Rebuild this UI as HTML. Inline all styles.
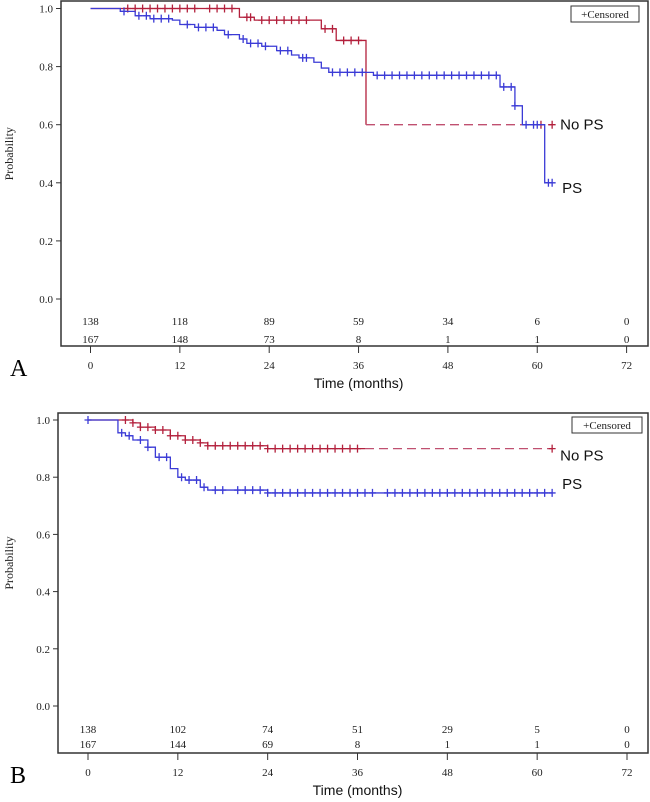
<!DOCTYPE html>
<html><head><meta charset="utf-8">
<style>
html,body{margin:0;padding:0;background:#fff;}
svg{display:block;}
.tk{font-family:"Liberation Serif",serif;font-size:11px;fill:#222;}
.lab{font-family:"Liberation Sans",sans-serif;font-size:15px;fill:#111;}
</style></head>
<body>
<svg id="chart" width="650" height="802" xmlns="http://www.w3.org/2000/svg"></svg>
<script>
// ===== Data =====
const xTicks = [0,12,24,36,48,60,72];
const yTicks = [0.0,0.2,0.4,0.6,0.8,1.0];
// Panel A
const aNoPsTimes = [0,20,22,31,33,37];
const aNoPsSurv  = [1.0,0.97,0.96,0.93,0.89,0.60];
const aNoPsSolidEnd = 37;
const aNoPsEnd = 62;
const aNoPsCens = [5,6,7,8,9,10,11,12,13,14,16,17,18,19,21,21.5,23,24,25,26,27,28,29,31.5,32.5,34,35,36,60.5,62];
const aPsTimes = [0,4,6,8,11,12,14,17,18,20,21,23,25,27,28,30,31,32,38,55,57,58,61];
const aPsSurv  = [1.0,0.99,0.975,0.965,0.96,0.945,0.935,0.925,0.91,0.895,0.88,0.87,0.855,0.84,0.83,0.815,0.795,0.78,0.77,0.73,0.665,0.60,0.40];
const aPsEnd = 62;
const aPsCens = [4.5,6.5,7.5,8.5,9.5,10.5,13,14.5,15.5,16.5,18.5,20.5,21.5,22.5,23.5,25.5,26.5,28.5,29,32.5,33.5,34.5,35.5,36.5,38.5,39.5,40.5,41.5,42.5,43.5,44.5,45.5,46.5,47.5,48.5,49.5,50.5,51.5,52.5,53.5,54.5,55.5,56.5,57,58.5,59.5,60,61.5,62];
const aRiskNoPs = [138,118,89,59,34,6,0];
const aRiskPs   = [167,148,73,8,1,1,0];
// Panel B
const bNoPsTimes = [0,6,7,9,11,13,15,16,24];
const bNoPsSurv  = [1.0,0.99,0.975,0.965,0.945,0.93,0.92,0.91,0.90];
const bNoPsSolidEnd = 37;
const bNoPsEnd = 62;
const bNoPsCens = [5,6,7,8,9,10,11,12,13,14,15,16,17,18,19,20,21,22,23,24,25,26,27,28,29,30,31,32,33,34,35,36,62];
const bPsTimes = [0,4,5,6,8,9,11,12,13,15,16,24];
const bPsSurv  = [1.0,0.955,0.945,0.93,0.905,0.87,0.83,0.80,0.79,0.765,0.755,0.745];
const bPsEnd = 62;
const bPsCens = [0,4.5,5.5,7,8,9.5,10.5,12.5,13.5,14.5,15.5,17,18,20,21,22,23,24,25,26,27,28,29,30,31,32,33,34,35,36,37,38,40,41,42,43,44,45,46,47,48,49,50,51,52,53,54,55,56,57,58,59,60,61,62];
const bRiskNoPs = [138,102,74,51,29,5,0];
const bRiskPs   = [167,144,69,8,1,1,0];

const RED = "#b3203c", BLUE = "#3b3bd6";
const svg = document.getElementById('chart');
const NS = "http://www.w3.org/2000/svg";
function mk(tag, attrs, parent){
  const e = document.createElementNS(NS, tag);
  for (const k in attrs) e.setAttribute(k, attrs[k]);
  (parent||svg).appendChild(e); return e;
}

function panel(cfg){
  const g = mk('g', {});
  
  
  const X = t => cfg.x0 + (cfg.x72 - cfg.x0) * t / 72;
  const Y = s => cfg.y0 + (cfg.y1 - cfg.y0) * s;
  // frame
  const fr = mk('rect', {x:cfg.left, y:cfg.top, width:cfg.right-cfg.left, height:cfg.bottom-cfg.top, fill:'none', stroke:'#333', 'stroke-width':1.5}, g);
  
  
  // y ticks
  yTicks.forEach(v => {
    mk('line', {x1:cfg.left-5, x2:cfg.left, y1:Y(v), y2:Y(v), stroke:'#333'}, g);
    const t = mk('text', {x:cfg.left-8, y:Y(v)+4, 'text-anchor':'end', class:'tk'}, g);
    t.textContent = v.toFixed(1);
    
    
  });
  // x ticks
  xTicks.forEach(v => {
    mk('line', {x1:X(v), x2:X(v), y1:cfg.bottom, y2:cfg.bottom+7, stroke:'#333'}, g);
    const t = mk('text', {x:X(v), y:cfg.bottom+23, 'text-anchor':'middle', class:'tk'}, g);
    t.textContent = v;
    
    
  });
  // axis titles
  const yt = mk('text', {x:0, y:0, transform:`translate(13,${(Y(0)+Y(1))/2}) rotate(-90)`, 'text-anchor':'middle', class:'tk', style:'font-size:12px'}, g);
  yt.textContent = 'Probability';
  
  
  const xt = mk('text', {x:X(36), y:cfg.bottom+42, 'text-anchor':'middle', class:'lab', style:'font-size:14px'}, g);
  xt.textContent = 'Time (months)';
  
  
  const pl = mk('text', {x:10, y:cfg.bottom+30, class:'tk', style:'font-size:24px;fill:#000'}, g);
  pl.textContent = cfg.letter;
  
  
  // risk table
  [[cfg.riskNo, cfg.r1],[cfg.riskPs, cfg.r2]].forEach(([arr, yy]) => {
    arr.forEach((v,i) => {
      const t = mk('text', {x:X(xTicks[i]), y:yy, 'text-anchor':'middle', class:'tk'}, g);
      t.textContent = v;
      
      
    });
  });
  // legend
  const lg = mk('g', {}, g);
  
  
  mk('rect', {x:cfg.legX, y:cfg.legY, width:cfg.legW, height:16, fill:'#fff', stroke:'#333'}, lg);
  const lt = mk('text', {x:cfg.legX+cfg.legW/2, y:cfg.legY+12, 'text-anchor':'middle', class:'tk', style:'font-size:11px'}, lg);
  lt.textContent = '+Censored';
  // step curves
  function curve(times, surv, solidEnd, end, cens, color, nm){
    const cg = mk('g', {}, g);
    
    
    const stepAt = t => { let s = surv[0]; for (let i=0;i<times.length;i++) if (times[i] <= t) s = surv[i]; return s; };
    let d = `M${X(times[0])},${Y(surv[0])}`, dd = '';
    for (let i=1;i<times.length;i++){
      const seg = `L${X(times[i])},${Y(surv[i-1])}L${X(times[i])},${Y(surv[i])}`;
      if (times[i] <= solidEnd) d += seg;
      else { if (!dd) dd = `M${X(solidEnd)},${Y(surv[i-1])}`; dd += seg; }
    }
    if (end <= solidEnd) d += `L${X(end)},${Y(surv[surv.length-1])}`;
    else {
      d += `L${X(solidEnd)},${Y(stepAt(solidEnd))}`;
      if (!dd) dd = `M${X(solidEnd)},${Y(stepAt(solidEnd))}`;
      dd += `L${X(end)},${Y(surv[surv.length-1])}`;
    }
    mk('path', {d:d, fill:'none', stroke:color, 'stroke-width':1.3}, cg);
    if (dd) mk('path', {d:dd, fill:'none', stroke:'#c05070', 'stroke-width':1.3, 'stroke-dasharray':'9,5'}, cg);
    cens.forEach(t => {
      const cx = X(t), cy = Y(stepAt(t));
      const m = mk('path', {d:`M${cx-3.5},${cy}H${cx+3.5}M${cx},${cy-4}V${cy+4}`, stroke:color, 'stroke-width':1.3}, cg);
      
      
    });
    return stepAt;
  }
  const sNo = curve(cfg.noT, cfg.noS, cfg.noSolid, cfg.noEnd, cfg.noC, RED, 'no-ps-curve');
  const sPs = curve(cfg.psT, cfg.psS, 999, cfg.psEnd, cfg.psC, BLUE, 'ps-curve');
  const l1 = mk('text', {x:X(cfg.noEnd)+8, y:Y(sNo(cfg.noEnd))+cfg.noLabDy, class:'lab'}, g);
  l1.textContent = 'No PS';
  
  
  const l2 = mk('text', {x:X(cfg.psEnd)+10, y:Y(sPs(cfg.psEnd))+cfg.psLabDy, class:'lab'}, g);
  l2.textContent = 'PS';
  
  
}

panel({name:'panel-a', letter:'A', left:61, right:648, top:1, bottom:346, x0:90.5, x72:626.6, y1:8.5, y0:299,
  r1:325, r2:343, legX:571, legY:6, legW:68,
  noT:aNoPsTimes, noS:aNoPsSurv, noSolid:aNoPsSolidEnd, noEnd:aNoPsEnd, noC:aNoPsCens,
  psT:aPsTimes, psS:aPsSurv, psEnd:aPsEnd, psC:aPsCens, riskNo:aRiskNoPs, riskPs:aRiskPs, noLabDy:5, psLabDy:10});
panel({name:'panel-b', letter:'B', left:58, right:648, top:413, bottom:753, x0:88, x72:627, y1:420, y0:706,
  r1:733, r2:748, legX:572, legY:417, legW:70,
  noT:bNoPsTimes, noS:bNoPsSurv, noSolid:bNoPsSolidEnd, noEnd:bNoPsEnd, noC:bNoPsCens,
  psT:bPsTimes, psS:bPsSurv, psEnd:bPsEnd, psC:bPsCens, riskNo:bRiskNoPs, riskPs:bRiskPs, noLabDy:12, psLabDy:-4});
</script>
</body></html>
